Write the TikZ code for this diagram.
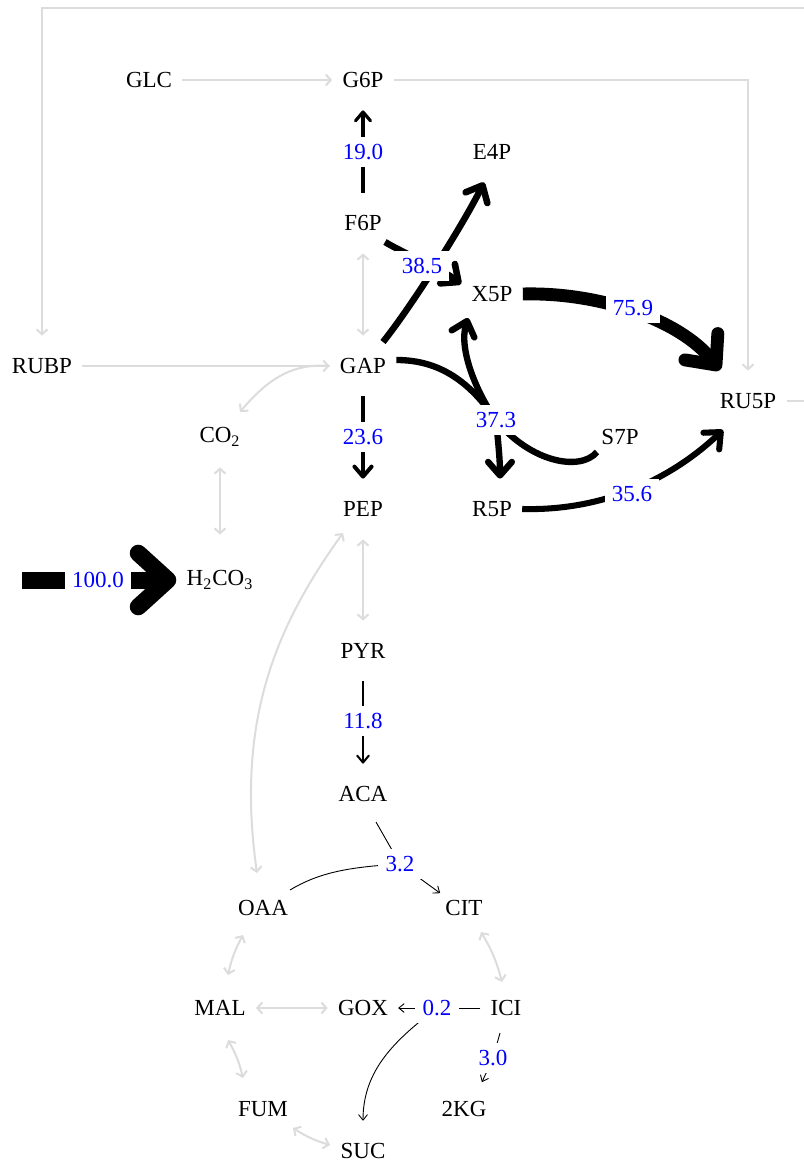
\documentclass[tikz,border=0pt]{standalone}
\usepackage{fontspec}
\setmainfont{Liberation Serif}
\usetikzlibrary{arrows.meta}
\definecolor{fluxblue}{RGB}{0,0,255}
\definecolor{idlegray}{RGB}{220,220,220}
\newcommand{\mapfont}{\fontsize{11.5}{13}\selectfont}
\begin{document}
\begin{tikzpicture}[x=0.5pt,y=0.5pt,
  met/.style={font=\mapfont, inner xsep=5pt, inner ysep=0pt, minimum height=30pt},
  rate/.style={font=\mapfont, text=fluxblue, fill=white, inner sep=3.6pt},
  idle/.style={draw=idlegray, line width=1pt},
  idleto/.style={idle, -{Straight Barb[length=2.5pt,width=5.5pt]}},
  idlebi/.style={idle, {Straight Barb[length=2.5pt,width=5.5pt]}-{Straight Barb[length=2.5pt,width=5.5pt]}},
  flow/.style={draw=black, line width=#1},
  flowto/.style={draw=black, line width=#1, -{Straight Barb[length=2pt 1.5,width=3pt 2.8,round]}},
]
\useasboundingbox (0,0) rectangle (803,-1161);

% metabolites
\node[met] (GLC)  at (149,-80)   {GLC};
\node[met] (G6P)  at (363,-80)   {G6P};
\node[met] (E4P)  at (492,-152)  {E4P};
\node[met] (F6P)  at (363,-223)  {F6P};
\node[met] (X5P)  at (492,-294)  {X5P};
\node[met] (RUBP) at (42,-366)   {RUBP};
\node[met] (GAP)  at (363,-366)  {GAP};
\node[met] (RU5P) at (748,-401)  {RU5P};
\node[met] (CO2)  at (220,-437)  {CO\textsubscript{2}};
\node[met] (S7P)  at (620,-437)  {S7P};
\node[met] (PEP)  at (363,-509)  {PEP};
\node[met] (R5P)  at (492,-509)  {R5P};
\node[met] (H2CO3) at (220,-580) {H\textsubscript{2}CO\textsubscript{3}};
\node[met] (PYR)  at (363,-651)  {PYR};
\node[met] (ACA)  at (363,-794)  {ACA};
\node[met] (OAA)  at (263,-908)  {OAA};
\node[met] (CIT)  at (464,-908)  {CIT};
\node[met] (MAL)  at (220,-1008) {MAL};
\node[met] (GOX)  at (363,-1008) {GOX};
\node[met] (ICI)  at (506,-1008) {ICI};
\node[met] (FUM)  at (263,-1109) {FUM};
\node[met] (KG)   at (464,-1109) {2KG};
\node[met] (SUC)  at (363,-1151) {SUC};

% reaction centres and free ends
\coordinate (tkA)  at (422,-266);
\coordinate (tkB)  at (496,-420);
\coordinate (cs)   at (400,-864);
\coordinate (icl)  at (437,-1008);
\coordinate (icd)  at (493,-1058);
\coordinate (feed) at (22,-580);
\coordinate (loopE) at (820,-401);
\coordinate (loopNE) at (820,-8);
\coordinate (loopNW) at (42,-8);

% inactive reactions
\draw[idleto] (GLC.east) -- (G6P.west);
\draw[idleto] (G6P.east) -| (RU5P.north);
\draw[idleto] (RU5P.east) -- (loopE) -- (loopNE) -- (loopNW) -- (RUBP.north);
\draw[idleto] (RUBP.east) -- (GAP.west);
\draw[idleto] (GAP.west) to[out=175,in=50] ([shift={(20,25)}]CO2.center);
\draw[idlebi] (F6P.south) -- (GAP.north);
\draw[idlebi] (CO2.south) -- ([yshift=7.5pt]H2CO3.north);
\draw[idlebi] (PEP.south) -- (PYR.north);
\draw[idlebi] ([shift={(-20,-24)}]PEP.center) .. controls (273,-630) and (236,-725) .. ([shift={(-6,35)}]OAA.center);
\draw[idlebi] ([shift={(-20,-27)}]OAA.center) to[bend right=8] ([shift={(8,33)}]MAL.center);
\draw[idlebi] ([shift={(8,-32)}]MAL.center) to[bend left=8] ([shift={(-20,31)}]FUM.center);
\draw[idlebi] (MAL.east) -- (GOX.west);
\draw[idlebi] ([shift={(30,-19)}]FUM.center) to[bend right=8] ([shift={(-33,6)}]SUC.center);
\draw[idlebi] ([shift={(17,-24)}]CIT.center) to[bend left=8] ([shift={(-4,26)}]ICI.center);

% active fluxes
\draw[flowto=1.6pt] (F6P.north) -- (G6P.south);
\draw[flowto=2pt] (GAP.south) -- (PEP.north);
\draw[flowto=1pt] (PYR.south) -- (ACA.north);
\draw[flowto=8.5pt] (feed) -- (H2CO3.west);

% transketolase 1
\draw[flowto=3.27pt] ([shift={(22,-19)}]F6P.center) .. controls (405,-254) and (440,-268) .. ([yshift=5pt]X5P.west);
\draw[flowto=3.27pt] ([shift={(20,24)}]GAP.center) .. controls (411,-307) and (463,-225) .. ([xshift=-4pt]E4P.south);

% transketolase 2
\draw[flow=3.17pt] ([yshift=3pt]GAP.east) .. controls (440,-360) and (470,-382) .. (tkB);
\draw[flow=3.17pt] ([shift={(-23,-15)}]S7P.center) .. controls (580,-472) and (530,-462) .. (tkB);
\draw[flowto=3.17pt] (tkB) .. controls (478,-395) and (458,-350) .. ([shift={(-24,-24)}]X5P.center);
\draw[flowto=3.17pt] (tkB) .. controls (498,-440) and (500,-460) .. ([xshift=4pt]R5P.north);

% epimerase and isomerase
\draw[flowto=6.45pt] (X5P.east) .. controls (600,-292) and (680,-320) .. ([shift={(-28,31)}]RU5P.center);
\draw[flowto=3.03pt] (R5P.east) .. controls (600,-511) and (668,-482) .. ([shift={(-25,-29)}]RU5P.center);

% citrate synthase
\draw[flow=0.45pt] ([shift={(13,-28)}]ACA.center) -- (cs);
\draw[flow=0.45pt] ([shift={(27,18)}]OAA.center) .. controls (320,-872) and (350,-867) .. (cs);
\draw[flowto=0.45pt] (cs) -- ([shift={(-24,15)}]CIT.center);

% isocitrate lyase
\draw[flow=0.45pt] (ICI.west) -- (icl);
\draw[flowto=0.45pt] (icl) -- (GOX.east);
\draw[flowto=0.45pt] (icl) .. controls (395,-1040) and (363,-1070) .. (SUC.north);

% isocitrate dehydrogenase
\draw[flow=0.45pt] ([shift={(-6,-25)}]ICI.center) -- (icd);
\draw[flowto=0.45pt] (icd) -- ([shift={(18,27)}]KG.center);

% flux values
\node[rate] at (363,-152) {19.0};
\node[rate] at (363,-437) {23.6};
\node[rate] at (363,-721) {11.8};
\node[rate] at (98,-580)  {100.0};
\node[rate] at (tkA) {38.5};
\node[rate] at (tkB) {37.3};
\node[rate] at (633,-308) {75.9};
\node[rate] at (632,-494) {35.6};
\node[rate] at (cs)  {3.2};
\node[rate] at (icl) {0.2};
\node[rate] at (icd) {3.0};
\end{tikzpicture}
\end{document}
